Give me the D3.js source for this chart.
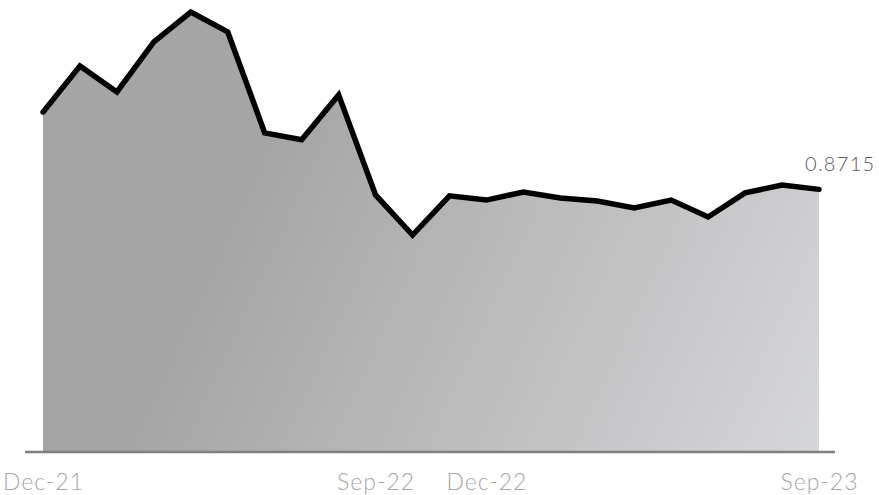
<!DOCTYPE html>
<html><head><meta charset="utf-8">
<script src="https://cdn.jsdelivr.net/npm/d3@7"></script>
<style>html,body{margin:0;padding:0;background:#fff;}</style>
</head><body>
<svg id="c" width="879" height="495"></svg>
<script>
const months = ["Dec-21","Jan-22","Feb-22","Mar-22","Apr-22","May-22","Jun-22","Jul-22","Aug-22","Sep-22","Oct-22","Nov-22","Dec-22","Jan-23","Feb-23","Mar-23","Apr-23","May-23","Jun-23","Jul-23","Aug-23","Sep-23"];
const values = [1.128,1.281,1.195,1.361,1.460,1.394,1.059,1.036,1.185,0.853,0.720,0.850,0.836,0.863,0.843,0.833,0.810,0.836,0.780,0.860,0.886,0.8715];
const tickLabels = ["Dec-21","Sep-22","Dec-22","Sep-23"];
const lastLabel = "0.8715";

const svg = d3.select("#c");
const x = d3.scalePoint().domain(months).range([43, 819]);
const y = d3.scaleLinear().domain([0, 1.5]).range([452, 0]);

const defs = svg.append("defs");
const g = defs.append("linearGradient").attr("id","fillg")
  .attr("gradientUnits","userSpaceOnUse")
  .attr("x1",240).attr("y1",200).attr("x2",830).attr("y2",470);
g.append("stop").attr("offset","0").attr("stop-color","#a5a5a5");
g.append("stop").attr("offset","1").attr("stop-color","#d7d8da");

const data = months.map((m,i)=>({m, v: values[i]}));

svg.append("path").datum(data)
  .attr("fill","url(#fillg)")
  .attr("d", d3.area().x(d=>x(d.m)).y0(y(0)).y1(d=>y(d.v)));

svg.append("line")
  .attr("x1",25).attr("x2",835).attr("y1",y(0)).attr("y2",y(0))
  .attr("stroke","#808080").attr("stroke-width",2.5);

svg.append("path").datum(data)
  .attr("fill","none").attr("stroke","#000").attr("stroke-width",5.5)
  .attr("stroke-linejoin","miter").attr("stroke-linecap","round")
  .attr("d", d3.line().x(d=>x(d.m)).y(d=>y(d.v)));

const axis = d3.axisBottom(x).tickValues(tickLabels).tickSize(0).tickPadding(0);
const ax = svg.append("g").attr("transform","translate(0,474)").call(axis);
ax.select(".domain").remove();
ax.selectAll("text")
  .attr("dy","0.71em")
  .attr("fill","#a6a6a6")
  .style("font-family","Lato, 'Open Sans', sans-serif")
  .style("font-size","23px")
  .style("letter-spacing","1px")
  .style("font-weight","300");

const last = data[data.length-1];
svg.append("text")
  .attr("x", x(last.m) - 14).attr("y", 171)
  .attr("fill","#595959")
  .style("font-family","Lato, 'Open Sans', sans-serif")
  .style("font-size","20px")
  .style("letter-spacing","1.3px")
  .style("font-weight","300")
  .text(lastLabel);
</script>
</body></html>
